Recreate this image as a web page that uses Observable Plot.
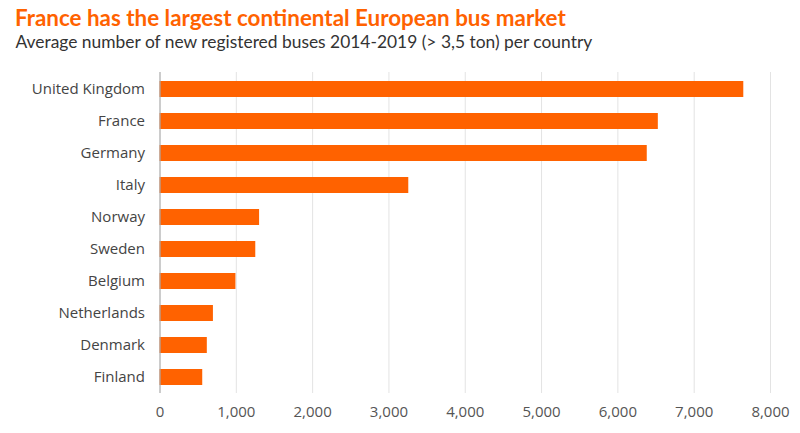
<!DOCTYPE html>
<html>
<head>
<meta charset="utf-8">
<script src="https://cdn.jsdelivr.net/npm/d3@7"></script>
<script src="https://cdn.jsdelivr.net/npm/@observablehq/plot@0.6"></script>
<style>
  html, body { margin: 0; padding: 0; background: #fff; }
  body { width: 800px; height: 433px; overflow: hidden; font-family: "Open Sans", Lato, sans-serif; }
  #title { position: absolute; left: 15px; top: 4px; font-family: Lato, sans-serif; font-size: 22.4px; font-weight: 700; color: #FF6200; white-space: nowrap; }
  #subtitle { position: absolute; left: 15.5px; top: 31px; font-family: Lato, sans-serif; font-size: 17.4px; color: #333; white-space: nowrap; }
  #chart { position: absolute; left: 0; top: 62px; }
</style>
</head>
<body>
<div id="title">France has the largest continental European bus market</div>
<div id="subtitle">Average number of new registered buses 2014-2019 (&gt; 3,5 ton) per country</div>
<div id="chart"></div>
<script>
const countries = ["United Kingdom", "France", "Germany", "Italy", "Norway", "Sweden", "Belgium", "Netherlands", "Denmark", "Finland"];
const buses = [7650, 6530, 6385, 3260, 1305, 1255, 995, 700, 620, 560];
const xTicks = [0, 1000, 2000, 3000, 4000, 5000, 6000, 7000, 8000];

const data = countries.map((c, i) => ({country: c, value: buses[i]}));

const chart = Plot.plot({
  width: 800,
  height: 371,
  marginLeft: 159.5,
  marginRight: 30,
  marginTop: 10,
  marginBottom: 40,
  style: {fontFamily: '"Open Sans", Lato, sans-serif', fontSize: "15px", color: "#444", background: "#fff"},
  x: {domain: [0, 8000], ticks: xTicks, tickFormat: d3.format(","), label: null},
  y: {domain: countries, paddingInner: 0.5, paddingOuter: 0.25, label: null},
  marks: [
    Plot.gridX(xTicks.slice(1), {stroke: "#e3e3e3", strokeOpacity: 1, strokeWidth: 1}),
    Plot.barX(data, {x: "value", y: "country", fill: "#FF6200"}),
    Plot.ruleY([0], {frameAnchor: "bottom", stroke: "#bbb", strokeWidth: 1.2}),
    Plot.ruleX([0], {stroke: "#aaa", strokeWidth: 1.2}),
    Plot.axisX({ticks: xTicks, tickFormat: d3.format(","), tickSize: 0, tickPadding: 13, fontSize: 15, fill: "#555", label: null}),
    Plot.axisY({tickSize: 0, tickPadding: 15, fontSize: 15, fill: "#444", label: null})
  ]
});
document.getElementById("chart").appendChild(chart);
</script>
</body>
</html>
